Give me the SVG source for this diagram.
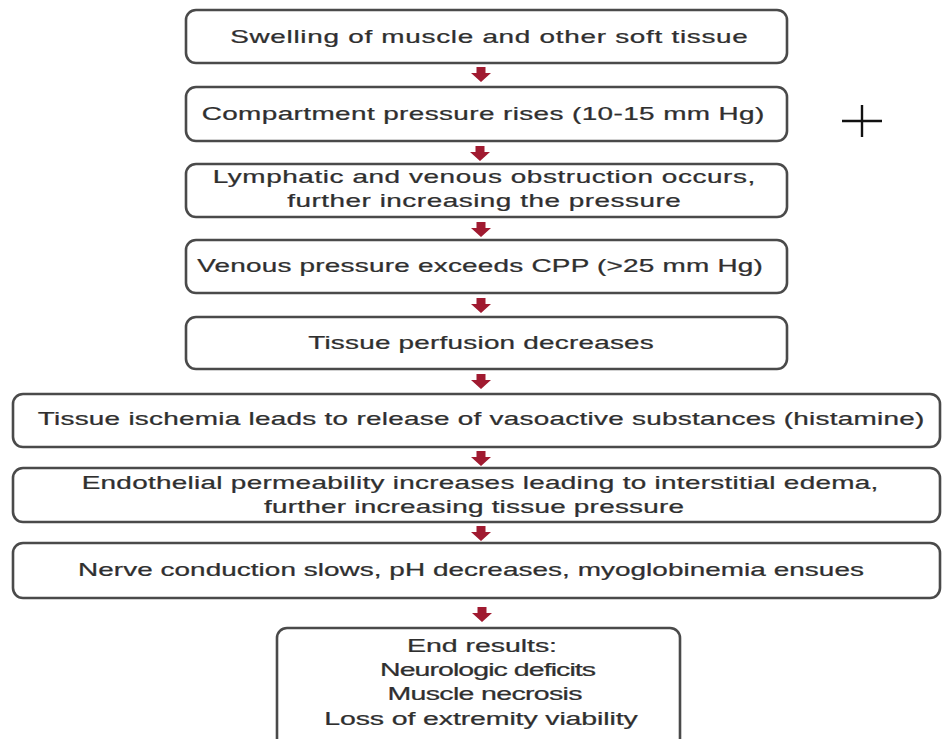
<svg xmlns="http://www.w3.org/2000/svg" width="942" height="739" viewBox="0 0 942 739">
<style>
.box{fill:#fff;stroke:#4a4a4a;stroke-width:2.6}
.t{font-family:"Liberation Sans",Arial,sans-serif;font-size:18px;fill:#2f2f2f;stroke:#2f2f2f;stroke-width:0.25;text-anchor:middle}
.t2{font-family:"Liberation Sans",Arial,sans-serif;font-size:19px;fill:#2f2f2f;stroke:#2f2f2f;stroke-width:0.25;text-anchor:middle}
.arr{fill:#a01a30}
</style>
<defs>
<path id="arrow" d="M-4.5,0 H4.5 V6 H10 L0,15 L-10,6 H-4.5 Z"/>
</defs>
<rect width="942" height="739" fill="#fff"/>
<g id="n1"><rect class="box" x="186" y="10" width="601" height="53" rx="10"/>
<text class="t" transform="translate(489 43) scale(1.55 1)" textLength="334" lengthAdjust="spacing">Swelling of muscle and other soft tissue</text></g>
<g id="n2"><rect class="box" x="186" y="87" width="601" height="54" rx="10"/>
<text class="t" transform="translate(483 120) scale(1.55 1)" textLength="363" lengthAdjust="spacing">Compartment pressure rises (10-15 mm Hg)</text></g>
<g id="n3"><rect class="box" x="186" y="164" width="601" height="53" rx="10"/>
<text class="t" transform="translate(484 183) scale(1.55 1)" textLength="350" lengthAdjust="spacing">Lymphatic and venous obstruction occurs,</text>
<text class="t" transform="translate(484 207) scale(1.55 1)" textLength="254" lengthAdjust="spacing">further increasing the pressure</text></g>
<g id="n4"><rect class="box" x="186" y="240" width="601" height="53" rx="10"/>
<text class="t" transform="translate(480 272) scale(1.55 1)" textLength="365" lengthAdjust="spacing">Venous pressure exceeds CPP (&gt;25 mm Hg)</text></g>
<g id="n5"><rect class="box" x="186" y="317" width="601" height="52" rx="10"/>
<text class="t" transform="translate(481 349) scale(1.55 1)" textLength="223" lengthAdjust="spacing">Tissue perfusion decreases</text></g>
<g id="n6"><rect class="box" x="13" y="394" width="927" height="53" rx="10"/>
<text class="t" transform="translate(481 425) scale(1.55 1)" textLength="572" lengthAdjust="spacing">Tissue ischemia leads to release of vasoactive substances (histamine)</text></g>
<g id="n7"><rect class="box" x="13" y="468" width="927" height="54" rx="10"/>
<text class="t" transform="translate(480 489) scale(1.55 1)" textLength="514" lengthAdjust="spacing">Endothelial permeability increases leading to interstitial edema,</text>
<text class="t" transform="translate(474 513) scale(1.55 1)" textLength="271" lengthAdjust="spacing">further increasing tissue pressure</text></g>
<g id="n8"><rect class="box" x="13" y="543" width="927" height="55" rx="10"/>
<text class="t" transform="translate(471 576) scale(1.55 1)" textLength="507" lengthAdjust="spacing">Nerve conduction slows, pH decreases, myoglobinemia ensues</text></g>
<g id="n9"><rect class="box" x="277" y="628" width="403" height="125" rx="10"/>
<text class="t2" transform="translate(482 652) scale(1.5 1)" textLength="100" lengthAdjust="spacing">End results:</text>
<text class="t2" transform="translate(488 676) scale(1.5 1)" textLength="144" lengthAdjust="spacing">Neurologic deficits</text>
<text class="t2" transform="translate(485 700) scale(1.5 1)" textLength="130" lengthAdjust="spacing">Muscle necrosis</text>
<text class="t2" transform="translate(481 725) scale(1.5 1)" textLength="209" lengthAdjust="spacing">Loss of extremity viability</text></g>
<g id="connectors" class="arr">
<use href="#arrow" x="481" y="67"/>
<use href="#arrow" x="480" y="146"/>
<use href="#arrow" x="481" y="222"/>
<use href="#arrow" x="481" y="298"/>
<use href="#arrow" x="481" y="374"/>
<use href="#arrow" x="481" y="451"/>
<use href="#arrow" x="481" y="526"/>
<use href="#arrow" x="482" y="607"/>
</g>
<g id="cursor" stroke="#111" stroke-width="2.4">
<line x1="862" y1="105" x2="862" y2="137"/>
<line x1="842" y1="121" x2="882" y2="121"/>
</g>
</svg>
